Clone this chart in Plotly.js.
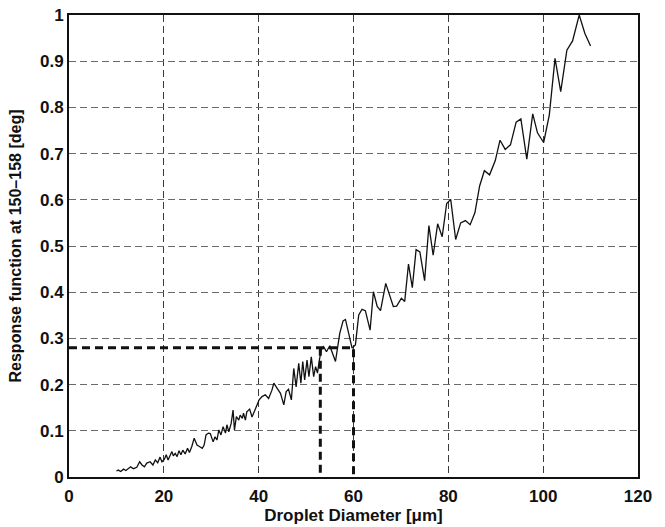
<!DOCTYPE html>
<html>
<head>
<meta charset="utf-8">
<script src="https://cdn.plot.ly/plotly-3.0.1.min.js"></script>
<style>
  html, body { margin: 0; padding: 0; background: #fff; }
  #chart { width: 665px; height: 527px; }
</style>
</head>
<body>
<div id="chart"></div>
<script>
// Droplet diameter [um] and response function at 150-158 deg
const diameter = [
  10.0, 10.4, 10.9, 11.5, 12.0, 12.5, 13.0, 13.6, 14.3, 14.9,
  15.4, 15.9, 16.4, 17.1, 17.7, 18.2, 18.7, 19.2, 19.6, 20.1,
  20.5, 20.9, 21.2, 21.7, 22.0, 22.4, 22.8, 23.2, 23.6, 24.0,
  24.5, 25.0, 25.4, 25.9, 26.4, 27.0, 27.5, 28.1, 28.5, 28.9,
  29.4, 29.8, 30.4, 30.8, 31.2, 31.6, 32.05, 32.5, 33.0, 33.3,
  33.7, 34.2, 34.6, 34.9, 35.3, 35.8, 36.1, 36.55, 36.8, 37.2,
  37.5, 38.1, 38.6, 39.3, 39.65, 40.1, 40.7, 41.4, 42.1, 42.8,
  43.2, 43.9, 44.6, 45.3, 45.8, 46.3, 46.9, 47.4, 47.9, 48.45,
  48.9, 49.3, 49.7, 50.2, 50.6, 51.1, 51.6, 52.0, 52.4, 52.8,
  53.2, 53.7, 54.3, 55.0, 55.5, 56.2, 57.1, 57.8, 58.3, 59.0,
  59.7, 60.4, 61.1, 61.8, 62.5, 63.5, 64.2, 65.0, 65.7, 66.8,
  67.5, 68.4, 69.1, 70.1, 70.8, 71.6, 72.4, 73.2, 74.0, 75.0,
  75.9, 76.8, 77.75, 78.7, 79.65, 80.5, 81.55, 82.6, 83.6, 84.6,
  85.6, 86.6, 87.6, 88.7, 89.9, 90.9, 92.0, 93.1, 94.3, 95.3,
  96.55, 97.8, 98.8, 100.1, 101.3, 102.5, 103.7, 105.0, 106.2, 107.6,
  108.8, 110.0
];
const response = [
  0.013, 0.015, 0.012, 0.017, 0.014, 0.019, 0.022, 0.018, 0.021, 0.033,
  0.026, 0.022, 0.030, 0.033, 0.026, 0.037, 0.031, 0.043, 0.033, 0.038,
  0.048, 0.037, 0.043, 0.055, 0.046, 0.051, 0.044, 0.057, 0.048, 0.058,
  0.050, 0.062, 0.053, 0.066, 0.084, 0.069, 0.066, 0.062, 0.069, 0.091,
  0.095, 0.094, 0.076, 0.087, 0.080, 0.102, 0.091, 0.109, 0.095, 0.113,
  0.098, 0.116, 0.145, 0.102, 0.131, 0.123, 0.134, 0.127, 0.138, 0.123,
  0.141, 0.147, 0.130, 0.145, 0.156, 0.167, 0.174, 0.178, 0.170, 0.188,
  0.203, 0.192, 0.181, 0.156, 0.185, 0.190, 0.167, 0.235, 0.195, 0.246,
  0.203, 0.250, 0.210, 0.253, 0.217, 0.260, 0.217, 0.239, 0.225, 0.253,
  0.275, 0.282, 0.271, 0.284, 0.271, 0.250, 0.311, 0.338, 0.341, 0.311,
  0.279, 0.286, 0.351, 0.363, 0.360, 0.318, 0.401, 0.369, 0.360, 0.419,
  0.396, 0.369, 0.370, 0.387, 0.380, 0.461, 0.410, 0.492, 0.487, 0.425,
  0.544, 0.480, 0.548, 0.520, 0.592, 0.601, 0.514, 0.550, 0.555, 0.546,
  0.572, 0.630, 0.663, 0.654, 0.685, 0.729, 0.709, 0.719, 0.768, 0.775,
  0.688, 0.786, 0.745, 0.724, 0.784, 0.906, 0.834, 0.924, 0.944, 1.000,
  0.960, 0.933
];

// Read-off guide: response level and the two diameters that bracket it
const markLevel = 0.28;
const markDiameters = [53, 60];

const xTicks = [0, 20, 40, 60, 80, 100, 120];
const xTickText = ['0', '20', '40', '60', '80', '100', '120'];
const yTicks = [0, 0.1, 0.2, 0.3, 0.4, 0.5, 0.6, 0.7, 0.8, 0.9, 1];
const yTickText = ['0', '0.1', '0.2', '0.3', '0.4', '0.5', '0.6', '0.7', '0.8', '0.9', '1'];

const bold = s => '<b>' + s + '</b>';
const guideStyle = { color: '#111', width: 3, dash: '8px,5px' };

const traces = [
  {
    x: diameter, y: response, type: 'scatter', mode: 'lines',
    line: { color: '#111', width: 1.3 }, hoverinfo: 'skip'
  },
  {
    x: [0, markDiameters[1], markDiameters[1]],
    y: [markLevel, markLevel, 0],
    type: 'scatter', mode: 'lines', line: guideStyle, hoverinfo: 'skip'
  },
  {
    x: [markDiameters[0], markDiameters[0]],
    y: [markLevel, 0],
    type: 'scatter', mode: 'lines', line: guideStyle, hoverinfo: 'skip'
  }
];

const family = 'Liberation Sans, Arial, Helvetica, sans-serif';
const tickFont = { family: family, size: 17, color: '#111' };

const layout = {
  width: 665, height: 527,
  margin: { l: 69, r: 27, t: 15, b: 50 },
  paper_bgcolor: '#fff', plot_bgcolor: '#fff',
  showlegend: false,
  xaxis: {
    range: [0, 120], tickvals: xTicks, ticktext: xTickText.map(bold), ticks: '',
    showgrid: true, gridcolor: '#3a3a3a', gridwidth: 1, griddash: '7px,4px',
    zeroline: false, showline: true, linecolor: '#111', linewidth: 2, mirror: true,
    tickfont: tickFont, ticklabelstandoff: 3,
    title: { text: bold('Droplet Diameter [μm]'), font: { family: family, size: 17, color: '#111' }, standoff: 0 },
    automargin: false
  },
  yaxis: {
    range: [0, 1], tickvals: yTicks, ticktext: yTickText.map(bold), ticks: '',
    showgrid: true, gridcolor: '#6a6a6a', gridwidth: 1, griddash: '7px,4px',
    zeroline: false, showline: true, linecolor: '#111', linewidth: 2, mirror: true,
    tickfont: tickFont,
    title: { text: bold('Response function at 150–158 [deg]'), font: { family: family, size: 16, color: '#111' }, standoff: 14 },
    automargin: false
  }
};

Plotly.newPlot('chart', traces, layout, { staticPlot: true, displayModeBar: false });
</script>
</body>
</html>
